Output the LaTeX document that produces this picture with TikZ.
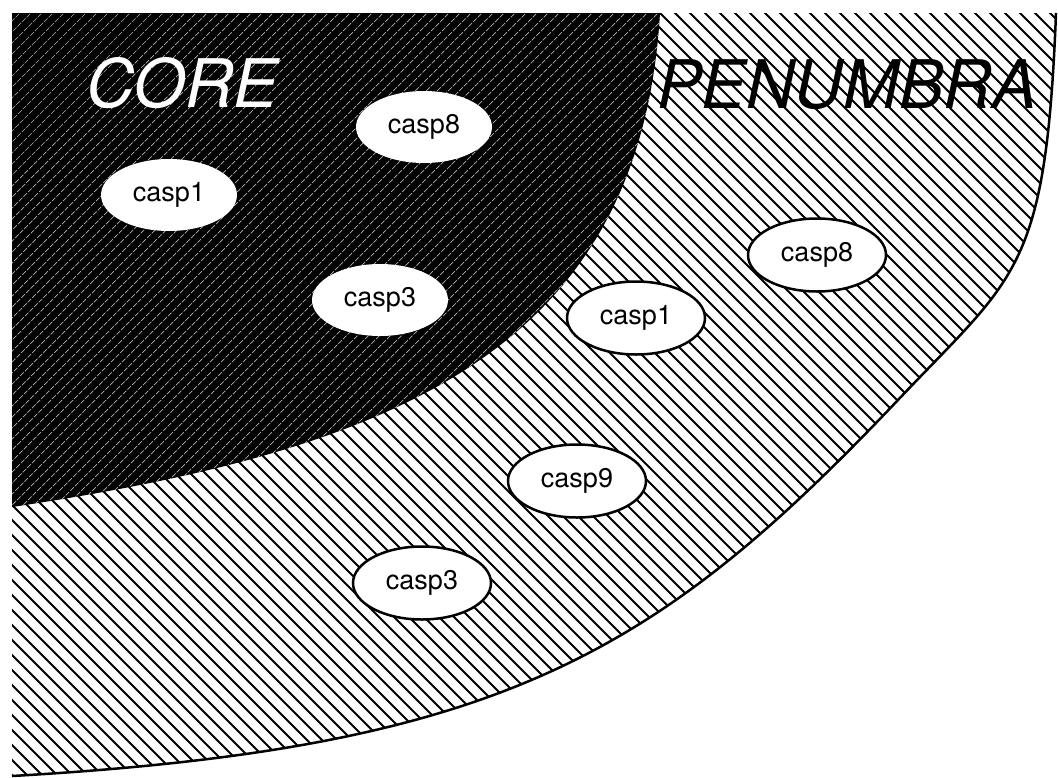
\documentclass[tikz,border=0pt]{standalone}
\usepackage{fontspec}
\setmainfont{TeX Gyre Heros}
\usetikzlibrary{shapes.geometric}
\begin{document}
\begin{tikzpicture}[x=1pt,y=-1pt,
  casp/.style={ellipse, fill=white, minimum width=136pt, minimum height=72pt, inner sep=0pt, font=\fontsize{27}{27}\selectfont},
  pcasp/.style={casp, draw=black, line width=2.5pt, minimum width=138pt, minimum height=73pt},
  bigtext/.style={font=\fontsize{67}{67}\selectfont\itshape, anchor=base west, inner sep=0pt},
  phatch/.style={black, line width=1.8pt},
  chatch/.style={gray!60, line width=0.7pt, dash pattern=on 5pt off 1.5pt},
  rim/.style={black, line width=2.5pt}
  ]
\useasboundingbox (0,0) rectangle (1058,777);
% penumbra region
\begin{scope}
  \clip (12,13) -- (1056,13) .. controls (1046,273) and (1015,276) .. (898,400) .. controls (656,655) and (500,748) .. (12,776) -- cycle;
  \fill[white] (0,0) rectangle (1058,777);
  \foreach \i in {-808,-793,...,1100} \draw[phatch] (\i,0) -- (\i+800,800);
\end{scope}
\draw[rim] (1056,13) .. controls (1046,273) and (1015,276) .. (898,400) .. controls (656,655) and (500,748) .. (12,776);
% core region
\begin{scope}
  \clip (12,13) -- (660,13) .. controls (639.6,353) and (392,450) .. (12,507) -- cycle;
  \fill[black] (0,0) rectangle (1058,777);
  \foreach \i in {0,11,...,1500} \draw[chatch] (\i,0) -- (\i-800,800);
\end{scope}
% labels
\node[bigtext, text=white] (core) at (86,107) {CORE};
\node[bigtext, text=black] (pen) at (657,108) {PENUMBRA};
% core caspases
\node[casp] (c8) at (424,127) {casp8};
\node[casp] (c1) at (169,195) {casp1};
\node[casp] (c3) at (380,300) {casp3};
% penumbra caspases
\node[pcasp] (p8) at (817,255) {casp8};
\node[pcasp] (p1) at (636,318) {casp1};
\node[pcasp] (p9) at (577,481) {casp9};
\node[pcasp] (p3) at (422,583) {casp3};
\end{tikzpicture}
\end{document}
